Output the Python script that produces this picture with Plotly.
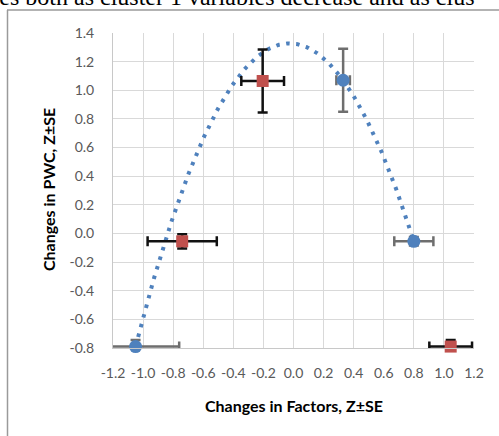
import numpy as np
import plotly.graph_objects as go

# Blue series (circles)
blue_x = [-1.05, 0.33, 0.80]
blue_y = [-0.79, 1.07, -0.055]
blue_ex = [0.29, 0.045, 0.13]
blue_ey = [0.045, 0.22, 0.03]

# Red series (squares)
red_x = [-0.205, -0.74, 1.045]
red_y = [1.065, -0.055, -0.79]
red_ex = [0.142, 0.23, 0.142]
red_ey = [0.22, 0.05, 0.045]

x_ticks = [round(-1.2 + 0.2 * i, 1) for i in range(13)]
y_ticks = [round(-0.8 + 0.2 * i, 1) for i in range(12)]

# 2nd-order polynomial trendline of the blue series (as Excel does)
coef = np.polyfit(blue_x, blue_y, 2)
tx = np.linspace(min(blue_x), max(blue_x), 300)
ty = np.polyval(coef, tx)

BLUE = "#4F81BD"
RED = "#C0504D"

fig = go.Figure()
fig.add_trace(go.Scatter(x=tx, y=ty, mode="lines",
                         line=dict(color=BLUE, width=4, dash="3.5px,6.5px"),
                         hoverinfo="skip", showlegend=False))
fig.add_trace(go.Scatter(x=blue_x, y=blue_y, mode="markers",
                         marker=dict(symbol="circle", size=13, color=BLUE),
                         error_x=dict(type="data", array=blue_ex, color="#6E6E6E", thickness=2.5, width=5),
                         error_y=dict(type="data", array=blue_ey, color="#6E6E6E", thickness=2.5, width=5),
                         cliponaxis=False, showlegend=False))
fig.add_trace(go.Scatter(x=red_x, y=red_y, mode="markers",
                         marker=dict(symbol="square", size=12, color=RED),
                         error_x=dict(type="data", array=red_ex, color="#111111", thickness=2.5, width=5),
                         error_y=dict(type="data", array=red_ey, color="#111111", thickness=2.5, width=5),
                         cliponaxis=False, showlegend=False))

L, R, T, B = 113, 25, 33, 88
W, H = 499, 436
pw, ph = W - L - R, H - T - B

def px(xp):
    return (xp - L) / pw

def py(yp):
    return (H - B - yp) / ph

fig.update_layout(
    width=W, height=H,
    margin=dict(l=L, r=R, t=T, b=B),
    paper_bgcolor="white", plot_bgcolor="white",
    font=dict(family="Lato, Carlito, sans-serif", size=14, color="#595959"),
    xaxis=dict(range=[-1.2, 1.2], tickvals=x_ticks, ticktext=[f"{v:.1f}" for v in x_ticks],
               showgrid=True, gridcolor="#D9D9D9", gridwidth=1, zeroline=False,
               showline=True, linecolor="#C8C8C8", ticks="", ticklabelstandoff=12),
    yaxis=dict(range=[-0.8, 1.4], tickvals=y_ticks, ticktext=[f"{v:.1f}" for v in y_ticks],
               showgrid=True, gridcolor="#D9D9D9", gridwidth=1, zeroline=False,
               showline=True, linecolor="#C8C8C8", ticks="", ticklabelstandoff=15),
    annotations=[
        dict(text="<b>Changes in Factors, Z±SE</b>", xref="paper", yref="paper",
             x=px(294), y=py(405), showarrow=False, xanchor="center", yanchor="middle",
             font=dict(family="Lato, sans-serif", size=16, color="#000000")),
        dict(text="<b>Changes in PWC, Z±SE</b>", xref="paper", yref="paper",
             x=px(48), y=py(190), showarrow=False, xanchor="center", yanchor="middle",
             textangle=-90, font=dict(family="Lato, sans-serif", size=16, color="#000000")),
        dict(text="ses both as cluster 1 variables decrease and as clus", xref="paper", yref="paper",
             x=px(-12), y=py(-3), showarrow=False, xanchor="left", yanchor="middle",
             font=dict(family="Liberation Serif, serif", size=24, color="#000000")),
    ],
    shapes=[
        dict(type="line", xref="paper", yref="paper", x0=px(7.5), x1=px(7.5), y0=py(10), y1=py(440),
             line=dict(color="#9A9A9A", width=1.5)),
        dict(type="line", xref="paper", yref="paper", x0=px(7), x1=px(505), y0=py(10), y1=py(10),
             line=dict(color="#9A9A9A", width=1.5)),
    ],
)

fig.write_html("out.html")
